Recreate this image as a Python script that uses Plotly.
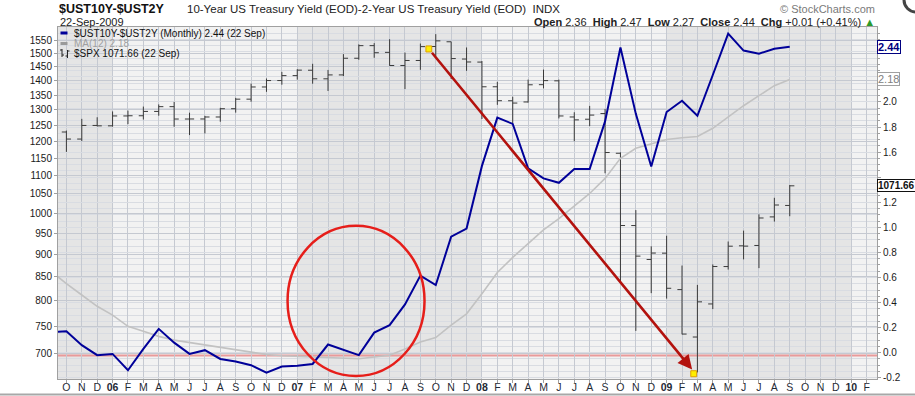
import math
import pandas as pd
import plotly.graph_objects as go

# ---------------- data ----------------
months = [d.strftime("%Y-%m") for d in pd.date_range("2005-09-01", "2010-02-01", freq="MS")]
spread_months = months[0:49]   # Sep 2005 .. Sep 2009
spx_months = months[1:49]      # Oct 2005 .. Sep 2009

spread = [0.165, 0.17, 0.06, -0.02, -0.01, -0.14, 0.03, 0.19, 0.08, -0.01, 0.02, -0.05,
          -0.07, -0.10, -0.16, -0.11, -0.105, -0.09, 0.065, 0.02, -0.02, 0.16, 0.22, 0.385,
          0.615, 0.54, 0.925, 0.99, 1.49, 1.875, 1.825, 1.47, 1.39, 1.355, 1.465, 1.465,
          1.845, 2.435, 1.905, 1.485, 1.92, 2.01, 1.89, 2.215, 2.545, 2.41, 2.385, 2.425, 2.44]

ma12 = [0.65, 0.55, 0.46, 0.37, 0.30, 0.21, 0.17, 0.13, 0.10, 0.08, 0.06, 0.04,
        0.02, 0.005, -0.015, -0.025, -0.03, -0.03, -0.035, -0.045, -0.048, -0.035, -0.02, 0.03,
        0.085, 0.12, 0.22, 0.31, 0.47, 0.64, 0.76, 0.87, 0.98, 1.07, 1.17, 1.27,
        1.39, 1.55, 1.63, 1.665, 1.70, 1.715, 1.725, 1.79, 1.88, 1.97, 2.05, 2.13, 2.18]

spx_open = [1228.81, 1207.01, 1249.48, 1248.29, 1280.08, 1280.66, 1294.83, 1310.61, 1270.09, 1270.20, 1276.66, 1303.82,
            1335.85, 1377.94, 1400.63, 1418.30, 1437.90, 1406.80, 1420.83, 1482.37, 1530.62, 1504.66, 1455.18, 1473.96,
            1527.29, 1545.79, 1479.37, 1467.97, 1378.60, 1330.45, 1326.41, 1385.97, 1399.62, 1276.69, 1269.42, 1287.83,
            1164.17, 968.67, 888.61, 902.99, 823.09, 729.57, 793.59, 872.74, 919.96, 920.82, 990.22, 1019.52]
spx_high = [1233.34, 1270.64, 1275.80, 1294.90, 1297.57, 1310.88, 1318.16, 1326.70, 1290.68, 1280.42, 1306.74, 1340.28,
            1389.45, 1407.89, 1431.81, 1441.61, 1461.57, 1438.89, 1498.02, 1535.56, 1540.56, 1555.90, 1503.89, 1538.74,
            1576.09, 1545.79, 1523.57, 1471.77, 1396.02, 1344.19, 1404.05, 1440.24, 1404.05, 1292.17, 1313.15, 1303.04,
            1167.03, 1007.51, 918.85, 943.85, 875.01, 832.98, 877.52, 930.17, 956.23, 996.68, 1039.47, 1073.85]
spx_low = [1168.20, 1201.07, 1246.59, 1245.74, 1253.61, 1268.42, 1280.74, 1245.34, 1219.29, 1224.54, 1261.30, 1290.93,
           1327.10, 1360.98, 1385.93, 1403.97, 1389.42, 1363.98, 1416.37, 1476.70, 1484.18, 1454.25, 1370.60, 1439.29,
           1489.56, 1406.10, 1435.65, 1270.05, 1316.75, 1256.98, 1324.35, 1373.07, 1272.00, 1200.44, 1247.45, 1106.42,
           839.80, 741.02, 815.69, 804.47, 734.52, 666.79, 783.32, 866.10, 888.86, 869.32, 978.51, 991.97]
spx_close = [1207.01, 1249.48, 1248.29, 1280.08, 1280.66, 1294.83, 1310.61, 1270.09, 1270.20, 1276.66, 1303.82, 1335.85,
             1377.94, 1400.63, 1418.30, 1438.24, 1406.82, 1420.86, 1482.37, 1530.62, 1503.35, 1455.27, 1473.99, 1526.75,
             1549.38, 1481.14, 1468.36, 1378.55, 1330.63, 1322.70, 1385.59, 1400.38, 1280.00, 1267.38, 1282.83, 1166.36,
             968.75, 896.24, 903.25, 825.88, 735.09, 797.87, 872.81, 919.14, 919.32, 987.48, 1020.62, 1071.66]

left_ticks = list(range(700, 1551, 50))
right_ticks = [-0.2, 0.0, 0.2, 0.4, 0.6, 0.8, 1.0, 1.2, 1.4, 1.6, 1.8, 2.0, 2.2, 2.4]
right_hidden = [1.4, 2.2, 2.4]   # covered by the value tags in the original
month_letters = "JFMAMJJASOND"
tick_months = months[1:]
tick_text = [f"<b>{m[2:4]}</b>" if m.endswith("-01") else month_letters[int(m[5:]) - 1] for m in tick_months]

# ---------------- layout geometry ----------------
W, H = 915, 396
ML, MR, MT, MB = 58, 38, 27, 17
PW, PH = W - ML - MR, H - MT - MB


def px(x):
    return (x - ML) / PW


def py(y):
    return (H - MB - y) / PH


FONT = "Liberation Sans, Arial, sans-serif"
NAVY = "#000099"

fig = go.Figure()

fig.add_trace(go.Ohlc(
    x=spx_months, open=spx_open, high=spx_high, low=spx_low, close=spx_close,
    increasing=dict(line=dict(color="#3a3a3a", width=1)),
    decreasing=dict(line=dict(color="#3a3a3a", width=1)),
    tickwidth=0.3, yaxis="y", hoverinfo="skip", showlegend=False))

fig.add_trace(go.Scatter(
    x=spread_months, y=ma12, mode="lines", yaxis="y2",
    line=dict(color="#c2c2c2", width=1.6), hoverinfo="skip", showlegend=False))

fig.add_trace(go.Scatter(
    x=spread_months, y=spread, mode="lines", yaxis="y2",
    line=dict(color=NAVY, width=2), hoverinfo="skip", showlegend=False))

shapes = []
# alternating year bands
bands = [(0.3, 4, "#e5e5e5"), (4, 16, "#f2f2f2"), (16, 28, "#e5e5e5"),
         (28, 40, "#f2f2f2"), (40, 52, "#e5e5e5"), (52, 54.5, "#f2f2f2")]
for x0, x1, c in bands:
    shapes.append(dict(type="rect", xref="x", yref="paper", x0=x0, x1=x1, y0=0, y1=1,
                       fillcolor=c, line=dict(width=0), layer="below"))
# red zero line
shapes.append(dict(type="line", xref="paper", yref="y2", x0=0, x1=1, y0=-0.022, y1=-0.022,
                   line=dict(color="#e99a9a", width=2), layer="below"))
# red circle
shapes.append(dict(type="circle", xref="x", yref="y2", x0=15.37, x1=24.27, y0=-0.186, y1=1.012,
                   line=dict(color="#e61e1a", width=2.5), layer="above"))
# yellow squares
for cx, cy in [(24.55, 2.423), (41.76, -0.168)]:
    shapes.append(dict(type="rect", xref="x", yref="y2", x0=cx - 0.19, x1=cx + 0.19,
                       y0=cy - 0.024, y1=cy + 0.024, fillcolor="#ffee00",
                       line=dict(color="#e0a000", width=1), layer="above"))
# legend icons
shapes.append(dict(type="line", xref="paper", yref="paper", x0=px(60.5), x1=px(67.5),
                   y0=py(33), y1=py(33), line=dict(color=NAVY, width=3)))
shapes.append(dict(type="line", xref="paper", yref="paper", x0=px(60.5), x1=px(67.5),
                   y0=py(43.5), y1=py(43.5), line=dict(color="#9a9a9a", width=3)))
for bx, top, bot, lt, rt in [(62, 49, 57, 50, 55), (67.5, 50, 58, 56, 51)]:
    shapes.append(dict(type="line", xref="paper", yref="paper", x0=px(bx), x1=px(bx),
                       y0=py(top), y1=py(bot), line=dict(color="#222", width=1)))
    shapes.append(dict(type="line", xref="paper", yref="paper", x0=px(bx - 2), x1=px(bx),
                       y0=py(lt), y1=py(lt), line=dict(color="#222", width=1)))
    shapes.append(dict(type="line", xref="paper", yref="paper", x0=px(bx), x1=px(bx + 2),
                       y0=py(rt), y1=py(rt), line=dict(color="#222", width=1)))
# bottom separator line
shapes.append(dict(type="line", xref="paper", yref="paper", x0=px(0), x1=px(915),
                   y0=py(394.5), y1=py(394.5), line=dict(color="#a8a8a8", width=2)))
# logo ring at top right (mostly off the page)
shapes.append(dict(type="circle", xref="paper", yref="paper", x0=px(904), x1=px(928),
                   y0=py(12), y1=py(-12), line=dict(color="#444", width=3)))

nb = "\u00a0"
ann = []
ann.append(dict(x=px(57), y=py(9), text="<b>$UST10Y-$UST2Y</b>", font=dict(size=12.5, color="#111")))
ann.append(dict(x=px(185), y=py(9),
                text=f"10-Year US Treasury Yield (EOD)-2-Year US Treasury Yield (EOD){nb}{nb}INDX",
                font=dict(size=11.5, color="#222")))
ann.append(dict(x=px(58), y=py(21.5), text="22-Sep-2009", font=dict(size=11, color="#222")))
ann.append(dict(x=px(877), y=py(8.5), xanchor="right", text=f"©{nb}StockCharts.com",
                font=dict(size=11, color="#7a7a7a")))
hdr = (f"<b>Open</b>{nb}2.36{nb}{nb}<b>High</b>{nb}2.47{nb}{nb}<b>Low</b>{nb}2.27{nb}{nb}"
       f"<b>Close</b>{nb}2.44{nb}{nb}<b>Chg</b>{nb}+0.01{nb}(+0.41%){nb}"
       f"<span style='color:#2a9a2a'>▲</span>")
ann.append(dict(x=px(877), y=py(21.5), xanchor="right", text=hdr, font=dict(size=11, color="#222")))
# legend texts
ann.append(dict(x=px(72), y=py(33), text=f"$UST10Y-$UST2Y (Monthly) {spread[-1]:.2f} (22 Sep)",
                font=dict(size=10, color="#111")))
ann.append(dict(x=px(72), y=py(43.5), text=f"MA(12) {ma12[-1]:.2f}", font=dict(size=10, color="#a0a0a0")))
ann.append(dict(x=px(71.5), y=py(53.5), text=f"$SPX {spx_close[-1]:.2f} (22 Sep)",
                font=dict(size=10, color="#111")))
for a in ann:
    a.update(xref="paper", yref="paper", showarrow=False, yanchor="middle",
             xanchor=a.get("xanchor", "left"))

# value tags on the right axis
tags = [
    dict(y=spread[-1], yref="y2", text=f"<b>{spread[-1]:.2f}</b>", font=dict(size=11, color="#000080"),
         bordercolor="#000080"),
    dict(y=ma12[-1], yref="y2", text=f"{ma12[-1]:.2f}", font=dict(size=11, color="#808080"),
         bordercolor="#a0a0a0"),
    dict(y=math.log10(spx_close[-1]), yref="y", text=f"<b>{spx_close[-1]:.2f}</b>",
         font=dict(size=10, color="#111"), bordercolor="#111"),
]
for t in tags:
    t.update(x=1.0, xref="paper", xanchor="left", xshift=0, yanchor="middle", showarrow=False,
             bgcolor="white", borderwidth=1, borderpad=0)
    ann.append(t)

# red arrow
ann.append(dict(x=41.74, y=-0.147, xref="x", yref="y2", ax=24.55, ay=2.423, axref="x", ayref="y2",
                text="", showarrow=True, arrowhead=2, arrowsize=1.1, arrowwidth=2.6,
                arrowcolor="#b3120e", standoff=2, startstandoff=3))

GRID = "#c5c9d1"
fig.update_layout(
    width=W, height=H,
    margin=dict(l=ML, r=MR, t=MT, b=MB, autoexpand=False),
    paper_bgcolor="white", plot_bgcolor="#f2f2f2",
    font=dict(family=FONT, size=10, color="#222"),
    showlegend=False,
    shapes=shapes, annotations=ann,
    xaxis=dict(type="category", categoryorder="array", categoryarray=months,
               range=[0.454, 53.67], tickmode="array", tickvals=tick_months, ticktext=tick_text,
               showgrid=True, gridcolor=GRID, gridwidth=1, zeroline=False,
               showline=True, linecolor="#a0a0a0", mirror=True,
               ticks="outside", ticklen=3, tickcolor="#a0a0a0", ticklabelstandoff=-5,
               tickfont=dict(size=10.5, color="#1f2a36"), rangeslider=dict(visible=False),
               fixedrange=True),
    yaxis=dict(type="log", range=[2.81671, 3.20546], tickmode="array",
               tickvals=left_ticks, ticktext=[str(v) for v in left_ticks],
               showgrid=True, gridcolor=GRID, gridwidth=1, zeroline=False,
               showline=True, linecolor="#a0a0a0", mirror=True,
               ticks="outside", ticklen=3, tickcolor="#a0a0a0",
               tickfont=dict(size=10, color="#1a1a1a"), fixedrange=True),
    yaxis2=dict(overlaying="y", side="right", range=[-0.21, 2.598],
                tickmode="array", tickvals=right_ticks,
                ticktext=["" if v in right_hidden else f"{v:.1f}" for v in right_ticks],
                showgrid=True, gridcolor="#d9dce2", gridwidth=1, zeroline=False,
                minor=dict(tickmode="linear", tick0=0, dtick=0.05, showgrid=True,
                           gridcolor="#d9dce2", ticks="outside", ticklen=2, tickcolor="#a0a0a0"),
                showline=False, ticks="outside", ticklen=3, tickcolor="#a0a0a0",
                tickfont=dict(size=10, color="#1a1a1a"), fixedrange=True),
)

fig.write_html("out.html", config={"displayModeBar": False},
               post_script="document.body.style.margin='0px';")
